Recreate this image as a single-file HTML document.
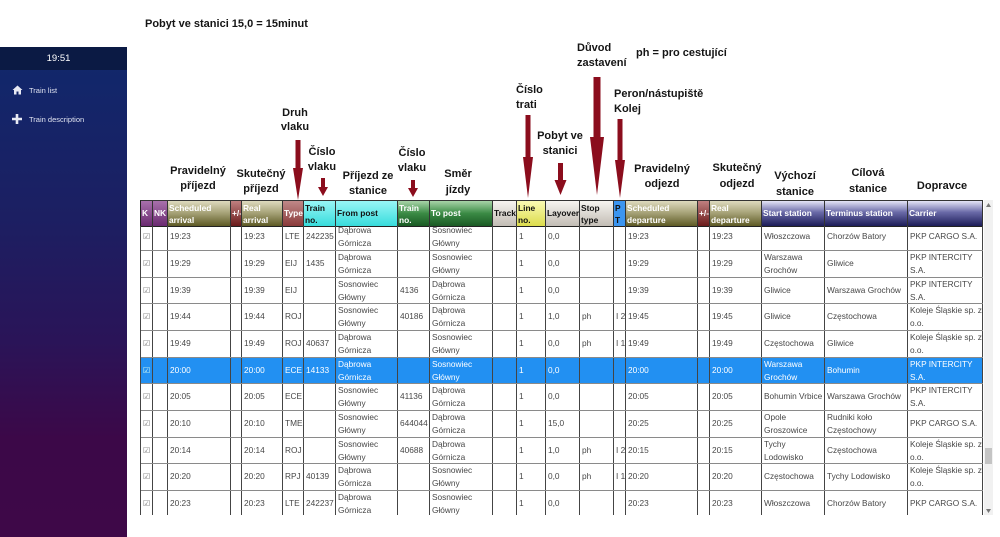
<!DOCTYPE html>
<html><head><meta charset="utf-8">
<style>
*{margin:0;padding:0}
html,body{width:1000px;height:537px;overflow:hidden;background:#fff;font-family:"Liberation Sans",Arial,sans-serif;position:relative}
.sb{position:absolute;left:0;top:47px;width:127px;height:490px;background:linear-gradient(#10286c 0%,#1c1f62 35%,#2a1458 60%,#3c0848 80%,#3e0848 100%)}
.sbt{position:absolute;left:0;top:0;width:127px;height:23px;background:#0b1a44;color:#fff;font-size:9.5px;line-height:23px;text-align:center;text-indent:-10px}
.mi{position:absolute;left:29px;color:#dfe2f0;font-size:7.5px;line-height:10px}
.an{position:absolute;font-weight:bold;font-size:11px;line-height:15px;color:#151515;white-space:nowrap}
.ac{width:120px;text-align:center}
.hd{position:absolute;left:140px;top:200px;height:26px;display:flex;border-left:1px solid #222;border-top:1px solid #333;border-bottom:1px solid #222;box-sizing:border-box;height:27px}
.hd>div{flex:none;box-sizing:border-box;border-right:1px solid #333;font-weight:bold;font-size:8.4px;line-height:12px;padding:0 0 0 1px;color:#fff;white-space:nowrap;overflow:hidden}
.h1{line-height:24px!important}
.h2{padding-top:1px!important}
.bk{color:#111!important}
.bd{position:absolute;left:140px;top:226px;width:843px;height:289px;overflow:hidden;border-left:1px solid #444;box-sizing:border-box}
.in{position:absolute;left:0;top:-1.7px;width:842px}
.r{display:flex;height:26.67px;box-sizing:border-box;border-bottom:1px solid #8a8a8a;color:#474747;font-size:8.3px}
.r>div{flex:none;box-sizing:border-box;border-right:1px solid #444;padding-left:2px;line-height:25.6px;white-space:nowrap;overflow:visible}
.r>div.t{line-height:13px;padding-top:0}
.sel{background:#2290f2;color:#fff!important}
.cb{font-family:"DejaVu Sans",sans-serif;font-size:8px;color:#777;padding-left:2px!important}
.sel .cb{color:#dfe}
.w1{width:12px}.w2{width:15px}.w3{width:63px}.w4{width:11px}.w5{width:41px}.w6{width:21px}.w7{width:32px}.w8{width:62px}.w9{width:32px}.w10{width:63px}.w11{width:24px}.w12{width:29px}.w13{width:34px}.w14{width:34px}.w15{width:12px}.w16{width:72px}.w17{width:12px}.w18{width:52px}.w19{width:63px}.w20{width:83px}.w21{width:75px}
.gk{background:linear-gradient(#a870ac,#6a2a70)}
.go{background:linear-gradient(#dedabe 0%,#aaa67c 45%,#5e5a24 100%)}
.gm{background:linear-gradient(#c08080,#6a1a1a)}
.gt{background:linear-gradient(#c08888,#8a3a3a)}
.gc{background:linear-gradient(#98f6f6,#38dcdc)}
.gg{background:linear-gradient(#a8d4a8,#3a8a44 50%,#1a5a24)}
.gr{background:linear-gradient(#f6f4f0,#c2bcb4)}
.gy{background:linear-gradient(#fafab4,#dcdc4c)}
.gb{background:#3b95f0}
.gn{background:linear-gradient(#e4e4f6,#6a6aa8 45%,#1c1c58)}
.scr{position:absolute;left:984px;top:200px;width:9px;height:315px;background:#f1f1f1}
</style></head><body>

<div class="an" style="left:145px;top:17px">Pobyt ve stanici 15,0 = 15minut</div>

<div class="sb">
 <div class="sbt">19:51</div>
 <svg style="position:absolute;left:12px;top:38px" width="11" height="10" viewBox="0 0 11 10"><path d="M5.5 0.5 L10.5 5 L9 5 L9 9.5 L6.5 9.5 L6.5 6.5 L4.5 6.5 L4.5 9.5 L2 9.5 L2 5 L0.5 5 Z" fill="#e8eaf4"/></svg>
 <div class="mi" style="top:39px">Train list</div>
 <svg style="position:absolute;left:12px;top:67px" width="10" height="10" viewBox="0 0 10 10"><path d="M3.7 0 H6.3 V3.7 H10 V6.3 H6.3 V10 H3.7 V6.3 H0 V3.7 H3.7 Z" fill="#e8eaf4"/></svg>
 <div class="mi" style="top:68px">Train description</div>
</div>

<!-- annotations -->
<div class="an ac" style="left:235px;top:106px;line-height:14px">Druh<br>vlaku</div>
<div class="an ac" style="left:262px;top:145px">Číslo<br>vlaku</div>
<div class="an ac" style="left:138px;top:164px;line-height:15px">Pravidelný<br>příjezd</div>
<div class="an ac" style="left:201px;top:167px;line-height:15px">Skutečný<br>příjezd</div>
<div class="an ac" style="left:308px;top:169px;line-height:15px">Příjezd ze<br>stanice</div>
<div class="an ac" style="left:352px;top:146px">Číslo<br>vlaku</div>
<div class="an ac" style="left:398px;top:166px;line-height:16px">Směr<br>jízdy</div>
<div class="an" style="left:516px;top:83px;line-height:15px">Číslo<br>trati</div>
<div class="an ac" style="left:500px;top:129px;line-height:15px">Pobyt ve<br>stanici</div>
<div class="an" style="left:577px;top:41px;line-height:15px">Důvod<br>zastavení</div>
<div class="an" style="left:636px;top:46px">ph = pro cestující</div>
<div class="an" style="left:614px;top:87px;line-height:15px">Peron/nástupiště<br>Kolej</div>
<div class="an ac" style="left:602px;top:162px;line-height:15px">Pravidelný<br>odjezd</div>
<div class="an ac" style="left:677px;top:160px;line-height:16px">Skutečný<br>odjezd</div>
<div class="an ac" style="left:735px;top:168px;line-height:16px">Výchozí<br>stanice</div>
<div class="an ac" style="left:808px;top:165px;line-height:16px">Cílová<br>stanice</div>
<div class="an ac" style="left:882px;top:179px">Dopravce</div>

<svg style="position:absolute;left:0;top:0" width="1000" height="537">
 <g fill="#8b0d1d">
  <polygon points="295.5,140 300.5,140 300.5,168 303,168 298,200 293,168 295.5,168"/>
  <polygon points="321,178 325,178 325,187 328,187 323,196 318,187 321,187"/>
  <polygon points="411,180 415,180 415,188 418,188 413,197 408,188 411,188"/>
  <polygon points="525.5,115 530.5,115 530.5,157 533,157 528,198 523,157 525.5,157"/>
  <polygon points="558,163 563,163 563,180 566.5,180 560.5,195 554.5,180 558,180"/>
  <polygon points="593.5,77 600.5,77 600.5,137 604,137 597,195 590,137 593.5,137"/>
  <polygon points="617.5,119 622.5,119 622.5,160 625,160 620,198 615,160 617.5,160"/>
 </g>
</svg>

<!-- header -->
<div class="hd">
 <div class="w1 gk h1">K</div>
 <div class="w2 gk h1">NK</div>
 <div class="w3 go h2">Scheduled<br>arrival</div>
 <div class="w4 gm h1">+/-</div>
 <div class="w5 go h2">Real<br>arrival</div>
 <div class="w6 gt h1">Type</div>
 <div class="w7 gc h2 bk">Train<br>no.</div>
 <div class="w8 gc h1 bk">From post</div>
 <div class="w9 gg h2">Train<br>no.</div>
 <div class="w10 gg h1">To post</div>
 <div class="w11 gr h1 bk">Track</div>
 <div class="w12 gy h2 bk">Line<br>no.</div>
 <div class="w13 gr h1 bk">Layover</div>
 <div class="w14 gr h2 bk">Stop<br>type</div>
 <div class="w15 gb h2 bk">P<br>T</div>
 <div class="w16 go h2">Scheduled<br>departure</div>
 <div class="w17 gm h1">+/-</div>
 <div class="w18 go h2">Real<br>departure</div>
 <div class="w19 gn h1">Start station</div>
 <div class="w20 gn h1">Terminus station</div>
 <div class="w21 gn h1">Carrier</div>
</div>

<div class="bd"><div class="in">
<div class="r"><div class="w1 cb">☑</div><div class="w2"></div><div class="w3">19:23</div><div class="w4"></div><div class="w5">19:23</div><div class="w6">LTE</div><div class="w7">242235</div><div class="w8 t">Dąbrowa<br>Górnicza</div><div class="w9"></div><div class="w10 t">Sosnowiec<br>Główny</div><div class="w11"></div><div class="w12">1</div><div class="w13">0,0</div><div class="w14"></div><div class="w15"></div><div class="w16">19:23</div><div class="w17"></div><div class="w18">19:23</div><div class="w19">Włoszczowa</div><div class="w20">Chorzów Batory</div><div class="w21">PKP CARGO S.A.</div></div>
<div class="r"><div class="w1 cb">☑</div><div class="w2"></div><div class="w3">19:29</div><div class="w4"></div><div class="w5">19:29</div><div class="w6">EIJ</div><div class="w7">1435</div><div class="w8 t">Dąbrowa<br>Górnicza</div><div class="w9"></div><div class="w10 t">Sosnowiec<br>Główny</div><div class="w11"></div><div class="w12">1</div><div class="w13">0,0</div><div class="w14"></div><div class="w15"></div><div class="w16">19:29</div><div class="w17"></div><div class="w18">19:29</div><div class="w19 t">Warszawa<br>Grochów</div><div class="w20">Gliwice</div><div class="w21 t">PKP INTERCITY<br>S.A.</div></div>
<div class="r"><div class="w1 cb">☑</div><div class="w2"></div><div class="w3">19:39</div><div class="w4"></div><div class="w5">19:39</div><div class="w6">EIJ</div><div class="w7"></div><div class="w8 t">Sosnowiec<br>Główny</div><div class="w9">4136</div><div class="w10 t">Dąbrowa<br>Górnicza</div><div class="w11"></div><div class="w12">1</div><div class="w13">0,0</div><div class="w14"></div><div class="w15"></div><div class="w16">19:39</div><div class="w17"></div><div class="w18">19:39</div><div class="w19">Gliwice</div><div class="w20">Warszawa Grochów</div><div class="w21 t">PKP INTERCITY<br>S.A.</div></div>
<div class="r"><div class="w1 cb">☑</div><div class="w2"></div><div class="w3">19:44</div><div class="w4"></div><div class="w5">19:44</div><div class="w6">ROJ</div><div class="w7"></div><div class="w8 t">Sosnowiec<br>Główny</div><div class="w9">40186</div><div class="w10 t">Dąbrowa<br>Górnicza</div><div class="w11"></div><div class="w12">1</div><div class="w13">1,0</div><div class="w14">ph</div><div class="w15">I 2</div><div class="w16">19:45</div><div class="w17"></div><div class="w18">19:45</div><div class="w19">Gliwice</div><div class="w20">Częstochowa</div><div class="w21 t">Koleje Śląskie sp. z<br>o.o.</div></div>
<div class="r"><div class="w1 cb">☑</div><div class="w2"></div><div class="w3">19:49</div><div class="w4"></div><div class="w5">19:49</div><div class="w6">ROJ</div><div class="w7">40637</div><div class="w8 t">Dąbrowa<br>Górnicza</div><div class="w9"></div><div class="w10 t">Sosnowiec<br>Główny</div><div class="w11"></div><div class="w12">1</div><div class="w13">0,0</div><div class="w14">ph</div><div class="w15">I 1</div><div class="w16">19:49</div><div class="w17"></div><div class="w18">19:49</div><div class="w19">Częstochowa</div><div class="w20">Gliwice</div><div class="w21 t">Koleje Śląskie sp. z<br>o.o.</div></div>
<div class="r sel"><div class="w1 cb">☑</div><div class="w2"></div><div class="w3">20:00</div><div class="w4"></div><div class="w5">20:00</div><div class="w6">ECE</div><div class="w7">14133</div><div class="w8 t">Dąbrowa<br>Górnicza</div><div class="w9"></div><div class="w10 t">Sosnowiec<br>Główny</div><div class="w11"></div><div class="w12">1</div><div class="w13">0,0</div><div class="w14"></div><div class="w15"></div><div class="w16">20:00</div><div class="w17"></div><div class="w18">20:00</div><div class="w19 t">Warszawa<br>Grochów</div><div class="w20">Bohumin</div><div class="w21 t">PKP INTERCITY<br>S.A.</div></div>
<div class="r"><div class="w1 cb">☑</div><div class="w2"></div><div class="w3">20:05</div><div class="w4"></div><div class="w5">20:05</div><div class="w6">ECE</div><div class="w7"></div><div class="w8 t">Sosnowiec<br>Główny</div><div class="w9">41136</div><div class="w10 t">Dąbrowa<br>Górnicza</div><div class="w11"></div><div class="w12">1</div><div class="w13">0,0</div><div class="w14"></div><div class="w15"></div><div class="w16">20:05</div><div class="w17"></div><div class="w18">20:05</div><div class="w19">Bohumin Vrbice</div><div class="w20">Warszawa Grochów</div><div class="w21 t">PKP INTERCITY<br>S.A.</div></div>
<div class="r"><div class="w1 cb">☑</div><div class="w2"></div><div class="w3">20:10</div><div class="w4"></div><div class="w5">20:10</div><div class="w6">TME</div><div class="w7"></div><div class="w8 t">Sosnowiec<br>Główny</div><div class="w9">644044</div><div class="w10 t">Dąbrowa<br>Górnicza</div><div class="w11"></div><div class="w12">1</div><div class="w13">15,0</div><div class="w14"></div><div class="w15"></div><div class="w16">20:25</div><div class="w17"></div><div class="w18">20:25</div><div class="w19 t">Opole<br>Groszowice</div><div class="w20 t">Rudniki koło<br>Częstochowy</div><div class="w21">PKP CARGO S.A.</div></div>
<div class="r"><div class="w1 cb">☑</div><div class="w2"></div><div class="w3">20:14</div><div class="w4"></div><div class="w5">20:14</div><div class="w6">ROJ</div><div class="w7"></div><div class="w8 t">Sosnowiec<br>Główny</div><div class="w9">40688</div><div class="w10 t">Dąbrowa<br>Górnicza</div><div class="w11"></div><div class="w12">1</div><div class="w13">1,0</div><div class="w14">ph</div><div class="w15">I 2</div><div class="w16">20:15</div><div class="w17"></div><div class="w18">20:15</div><div class="w19 t">Tychy<br>Lodowisko</div><div class="w20">Częstochowa</div><div class="w21 t">Koleje Śląskie sp. z<br>o.o.</div></div>
<div class="r"><div class="w1 cb">☑</div><div class="w2"></div><div class="w3">20:20</div><div class="w4"></div><div class="w5">20:20</div><div class="w6">RPJ</div><div class="w7">40139</div><div class="w8 t">Dąbrowa<br>Górnicza</div><div class="w9"></div><div class="w10 t">Sosnowiec<br>Główny</div><div class="w11"></div><div class="w12">1</div><div class="w13">0,0</div><div class="w14">ph</div><div class="w15">I 1</div><div class="w16">20:20</div><div class="w17"></div><div class="w18">20:20</div><div class="w19">Częstochowa</div><div class="w20">Tychy Lodowisko</div><div class="w21 t">Koleje Śląskie sp. z<br>o.o.</div></div>
<div class="r"><div class="w1 cb">☑</div><div class="w2"></div><div class="w3">20:23</div><div class="w4"></div><div class="w5">20:23</div><div class="w6">LTE</div><div class="w7">242237</div><div class="w8 t">Dąbrowa<br>Górnicza</div><div class="w9"></div><div class="w10 t">Sosnowiec<br>Główny</div><div class="w11"></div><div class="w12">1</div><div class="w13">0,0</div><div class="w14"></div><div class="w15"></div><div class="w16">20:23</div><div class="w17"></div><div class="w18">20:23</div><div class="w19">Włoszczowa</div><div class="w20">Chorzów Batory</div><div class="w21">PKP CARGO S.A.</div></div>
</div></div>

<div class="scr">
 <svg style="position:absolute;left:2px;top:3px" width="5" height="4"><polygon points="2.5,0 5,4 0,4" fill="#777"/></svg>
 <div style="position:absolute;left:1px;top:248px;width:7px;height:16px;background:#c4c4c4"></div>
 <svg style="position:absolute;left:2px;top:309px" width="5" height="4"><polygon points="0,0 5,0 2.5,4" fill="#777"/></svg>
</div>
</body></html>
